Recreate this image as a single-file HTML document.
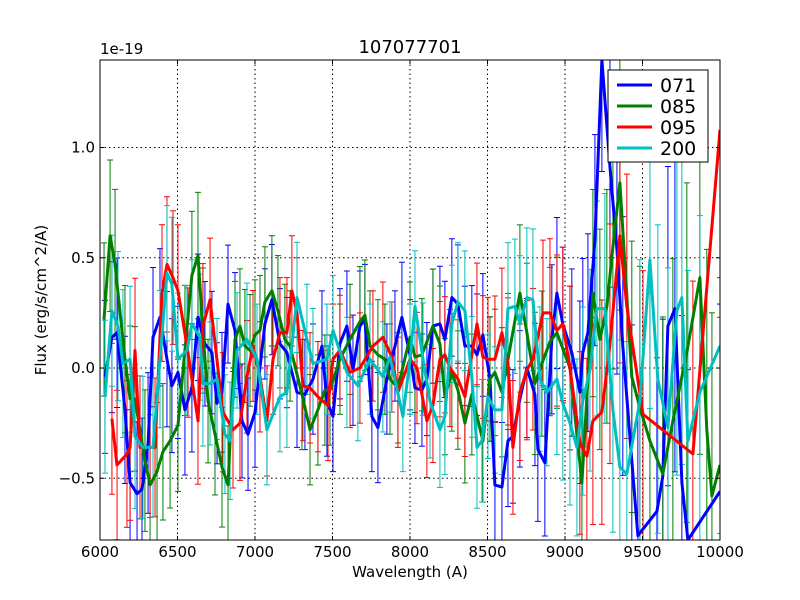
<!DOCTYPE html>
<html><head><meta charset="utf-8"><style>
html,body{margin:0;padding:0;background:#fff;overflow:hidden;width:800px;height:600px}
svg{display:block}
svg text{font-family:"DejaVu Sans","Liberation Sans",sans-serif}
</style></head><body>
<svg id="chart" width="800" height="600" xmlns="http://www.w3.org/2000/svg">
<rect width="800" height="600" fill="#fff"/>
<defs><clipPath id="clip"><rect x="100" y="60" width="620" height="480"/></clipPath></defs>
<g id="grid"></g>
<g id="series" clip-path="url(#clip)"></g>
<rect x="100" y="60" width="620" height="480" fill="none" stroke="#000" stroke-width="1"/>
<g id="ticks"></g>
<text x="410" y="53" font-size="18" text-anchor="middle">107077701</text>
<text x="100" y="54" font-size="15">1e-19</text>
<text x="410" y="577" font-size="15" text-anchor="middle">Wavelength (A)</text>
<text x="46" y="300" font-size="15" text-anchor="middle" transform="rotate(-90 46 300)">Flux (erg/s/cm^2/A)</text>
<g id="legend">
<rect x="608" y="70" width="100" height="92" fill="#fff" stroke="#000" stroke-width="1"/>
</g>
</svg>
<script>
const xTicks=[6000,6500,7000,7500,8000,8500,9000,9500,10000];
const yTicks=[-0.5,0,0.5,1.0];
const yTickLabels=["−0.5","0.0","0.5","1.0"];
const errWl=[6000,6500,7000,7500,8000,8500,9000,9300,9600,10000];
const errVal=[0.35,0.3,0.25,0.25,0.25,0.28,0.35,0.55,0.7,0.85];
const names=["071","085","095","200"];
const colors=["#0000ff","#007f00","#ff0000","#00bfbf"];
const wl071=[6032,6077,6110,6161,6194,6239,6271,6310,6342,6387,6432,6464,6503,6548,6593,6632,6677,6722,6755,6787,6826,6871,6916,6955,7000,7064,7109,7161,7206,7271,7322,7374,7432,7464,7503,7548,7593,7632,7677,7709,7754,7793,7851,7903,7948,8000,8032,8077,8109,8148,8193,8225,8270,8309,8354,8399,8432,8470,8516,8548,8593,8632,8664,8709,8754,8806,8825,8870,8915,8948,8986,9044,9096,9115,9148,9193,9238,9290,9335,9373,9431,9470,9593,9631,9664,9709,9754,9793,10000];
const flux071=[-0.04,0.14,0.16,-0.19,-0.52,-0.57,-0.55,-0.34,0.14,0.23,0.04,-0.08,-0.02,-0.19,-0.09,0.23,0.11,0.07,-0.16,-0.11,0.29,0.17,-0.24,-0.3,-0.2,0.2,0.31,0.11,0.07,-0.11,-0.12,-0.05,0.1,-0.15,-0.22,0.11,0.19,-0.01,0.19,0.22,-0.22,-0.27,-0.05,0.1,0.23,0.06,-0.09,-0.1,-0.05,0.19,0.2,0.13,0.32,0.29,0.1,0.1,0.06,0.15,-0.05,-0.53,-0.54,-0.33,-0.31,-0.14,0,-0.12,-0.37,-0.43,0.13,0.34,0.2,0.07,-0.11,0.07,0.16,0.58,1.4,0.91,0.54,0.1,-0.42,-0.76,-0.65,-0.49,0.19,0.27,-0.52,-0.78,-0.56];
const wl085=[6026,6065,6097,6161,6194,6226,6290,6323,6368,6406,6452,6503,6548,6593,6632,6664,6697,6742,6787,6826,6871,6903,6935,6968,7000,7032,7064,7109,7148,7193,7226,7303,7355,7406,7451,7484,7548,7613,7677,7709,7742,7793,7838,7871,7922,8000,8032,8077,8148,8193,8225,8270,8309,8354,8399,8470,8516,8548,8593,8632,8709,8754,8806,8851,8903,8948,9032,9109,9180,9225,9270,9309,9354,9431,9483,9548,9631,9696,9786,9870,9915,9948,10000];
const flux085=[0.22,0.6,0.47,0.04,-0.14,-0.14,-0.42,-0.53,-0.47,-0.38,-0.33,-0.26,0.08,0.42,0.51,0.17,-0.15,-0.3,-0.45,-0.53,0.13,0.19,0.1,0.08,0.15,0.17,0.3,0.35,0.26,0.13,0.1,-0.12,-0.28,-0.19,-0.1,-0.1,0.04,0.13,0.21,0.24,0.1,0.06,0.04,-0.05,-0.09,0.14,0.05,0.06,0.19,0.11,-0.13,-0.02,-0.1,-0.25,-0.12,-0.33,-0.05,-0.02,-0.11,0.04,0.34,0.16,-0.07,0.02,0.12,0.16,0,-0.52,0.34,0.13,0.28,0.55,0.84,-0.04,-0.18,-0.33,-0.48,-0.24,0.07,0.41,-0.28,-0.58,-0.44];
const wl095=[6077,6110,6174,6194,6226,6258,6323,6355,6400,6432,6471,6503,6568,6632,6664,6710,6793,6858,6903,6948,6987,7032,7077,7116,7161,7206,7238,7271,7309,7355,7406,7471,7503,7548,7613,7677,7761,7825,7883,7922,8000,8045,8109,8148,8193,8225,8258,8309,8354,8432,8470,8503,8548,8593,8632,8664,8709,8754,8793,8858,8903,8948,8986,9032,9096,9141,9180,9238,9290,9354,9399,9503,9825,10000];
const flux095=[-0.23,-0.44,-0.39,-0.36,0.08,-0.36,-0.36,-0.36,0.34,0.47,0.41,0.35,0.07,-0.24,0.19,0.31,-0.2,-0.28,-0.25,-0.04,0.1,-0.04,-0.24,0.04,0.16,0.16,0.35,0.25,-0.08,-0.09,-0.13,-0.17,0.04,0.08,-0.02,0,0.1,0.14,0.05,-0.11,0.04,0,-0.24,-0.17,0.04,0.06,0,-0.05,-0.13,0.2,0.05,0.04,0.04,0.16,0.02,-0.36,-0.11,-0.01,0.04,0.25,0.25,0.17,0.2,0,-0.34,-0.4,-0.24,-0.2,0.11,0.6,0.28,-0.21,-0.39,1.08];
const wl200=[6032,6077,6116,6148,6194,6226,6277,6342,6387,6432,6464,6503,6561,6593,6645,6664,6710,6755,6806,6839,6884,6948,7013,7077,7161,7206,7271,7335,7374,7464,7503,7593,7664,7742,7825,7871,7954,8000,8032,8084,8129,8193,8225,8270,8309,8354,8399,8432,8464,8503,8548,8593,8632,8677,8709,8754,8793,8838,8883,8948,8986,9032,9077,9115,9161,9206,9257,9309,9354,9399,9483,9548,9599,9664,9722,9754,9793,9870,10000];
const flux200=[-0.13,0.26,0.19,0.02,0.04,-0.31,-0.36,-0.36,0.04,0.43,0.38,0.04,0.08,0.2,0.14,-0.07,-0.07,-0.05,-0.3,-0.33,0.08,0.13,0.04,-0.28,-0.13,-0.11,0.32,0.13,0.02,0.04,0.17,-0.02,-0.08,0.04,-0.04,0.05,-0.22,0.04,0.28,0.04,-0.15,-0.28,-0.22,0.2,0.3,0.26,-0.04,-0.36,-0.33,-0.13,-0.19,-0.19,0.27,0.28,0.2,0.32,0.31,-0.05,-0.11,-0.05,-0.16,-0.25,-0.36,-0.15,-0.01,0.27,0.27,-0.19,-0.45,-0.48,-0.15,0.49,-0.05,-0.27,0.26,0.32,-0.33,-0.11,0.1];

const NS="http://www.w3.org/2000/svg";
const X0=100,X1=720,Y0=60,Y1=540,XMIN=6000,XMAX=10000,YMIN=-0.78,YMAX=1.397;
function sx(w){return X0+(w-XMIN)/(XMAX-XMIN)*(X1-X0);}
function sy(v){return Y1-(v-YMIN)/(YMAX-YMIN)*(Y1-Y0);}
function clampY(y){return Math.max(Y0,Math.min(Y1,y));}
function mk(tag,attrs,parent){const e=document.createElementNS(NS,tag);for(const k in attrs)e.setAttribute(k,attrs[k]);parent.appendChild(e);return e;}
function errAt(w){for(let i=1;i<errWl.length;i++){if(w<=errWl[i]){const t=(w-errWl[i-1])/(errWl[i]-errWl[i-1]);return errVal[i-1]+t*(errVal[i]-errVal[i-1]);}}return errVal[errVal.length-1];}
const grid=document.getElementById('grid'),ticks=document.getElementById('ticks'),series=document.getElementById('series'),legend=document.getElementById('legend');
xTicks.forEach(t=>{const x=sx(t);
 const g=mk('line',{x1:x,x2:x,y1:Y0,y2:Y1,stroke:'#000','stroke-dasharray':'1.5,3','stroke-width':1},grid);
 
 
 mk('line',{x1:x,x2:x,y1:Y1,y2:Y1-4,stroke:'#000'},ticks);
 mk('line',{x1:x,x2:x,y1:Y0,y2:Y0+4,stroke:'#000'},ticks);
 const l=mk('text',{x:x,y:Y1+17,'font-size':15,'text-anchor':'middle'},ticks);l.textContent=t;
 
 
});
yTicks.forEach((t,i)=>{const y=sy(t);
 const g=mk('line',{x1:X0,x2:X1,y1:y,y2:y,stroke:'#000','stroke-dasharray':'1.5,3','stroke-width':1},grid);
 
 
 mk('line',{x1:X0,x2:X0+4,y1:y,y2:y,stroke:'#000'},ticks);
 mk('line',{x1:X1,x2:X1-4,y1:y,y2:y,stroke:'#000'},ticks);
 const l=mk('text',{x:X0-5,y:y+5,'font-size':15,'text-anchor':'end'},ticks);l.textContent=yTickLabels[i];
 
 
});
const data=[[wl071,flux071],[wl085,flux085],[wl095,flux095],[wl200,flux200]];
data.forEach(([w,f],si)=>{
 const eg=mk('g',{stroke:colors[si],'stroke-width':1},series);
 
 
 w.forEach((wv,i)=>{const e=errAt(wv),x=sx(wv),ya=sy(f[i]+e),yb=sy(f[i]-e);
  const ca=clampY(ya),cb=clampY(yb);
  mk('line',{x1:x,x2:x,y1:ca,y2:cb},eg);
  if(ca===ya)mk('line',{x1:x-3,x2:x+3,y1:ya,y2:ya},eg);
  if(cb===yb)mk('line',{x1:x-3,x2:x+3,y1:yb,y2:yb},eg);
 });
});
data.forEach(([w,f],si)=>{
 const p=mk('polyline',{points:w.map((wv,i)=>sx(wv).toFixed(1)+','+clampY(sy(f[i])).toFixed(1)).join(' '),fill:'none',stroke:colors[si],'stroke-width':3,'stroke-linejoin':'round'},series);
 
 
});
names.forEach((n,i)=>{const y=85+i*21;
 const l=mk('line',{x1:617,x2:652,y1:y,y2:y,stroke:colors[i],'stroke-width':3},legend);
 
 
 const t=mk('text',{x:660,y:y+7,'font-size':19},legend);t.textContent=n;
 
 
});
</script>
</body></html>
